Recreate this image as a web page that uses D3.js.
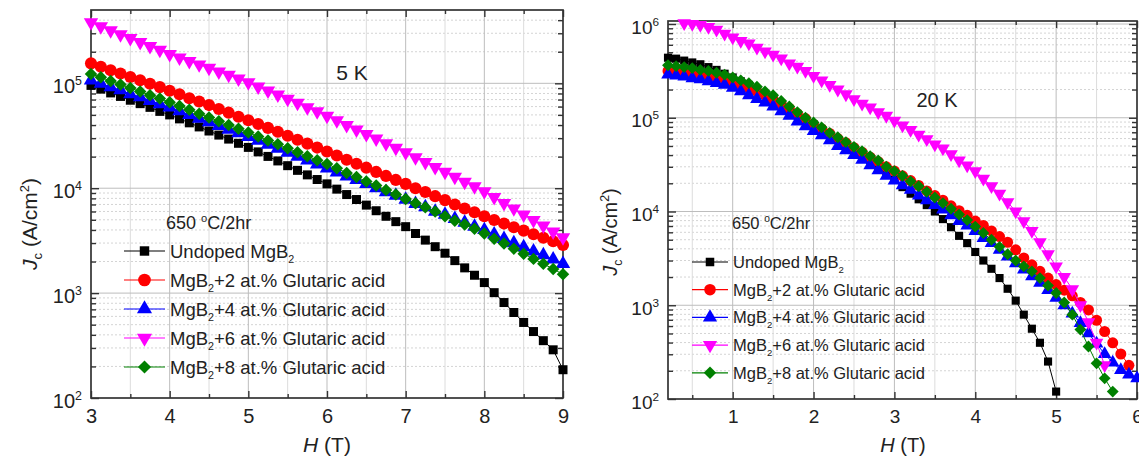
<!DOCTYPE html>
<html>
<head>
<meta charset="utf-8">
<script src="https://cdn.jsdelivr.net/npm/d3@7"></script>
<style>
  body { margin: 0; background: #fff; }
  svg text { font-family: "Liberation Sans", Arial, sans-serif; fill: #222; }
</style>
</head>
<body>
<div id="chart"></div>
<script>
// ---- data ----
// magnetic field H (T)
const field5K = [3, 3.125, 3.25, 3.375, 3.5, 3.625, 3.75, 3.875, 4, 4.125, 4.25, 4.375, 4.5, 4.625, 4.75, 4.875,
  5, 5.125, 5.25, 5.375, 5.5, 5.625, 5.75, 5.875, 6, 6.125, 6.25, 6.375, 6.5, 6.625, 6.75, 6.875,
  7, 7.125, 7.25, 7.375, 7.5, 7.625, 7.75, 7.875, 8, 8.125, 8.25, 8.375, 8.5, 8.625, 8.75, 8.875, 9];
const field20K = [0.2, 0.3, 0.4, 0.5, 0.6, 0.7, 0.8, 0.9, 1, 1.1, 1.2, 1.3, 1.4, 1.5, 1.6, 1.7, 1.8, 1.9,
  2, 2.1, 2.2, 2.3, 2.4, 2.5, 2.6, 2.7, 2.8, 2.9, 3, 3.1, 3.2, 3.3, 3.4, 3.5, 3.6, 3.7, 3.8, 3.9,
  4, 4.1, 4.2, 4.3, 4.4, 4.5, 4.6, 4.7, 4.8, 4.9, 5, 5.1, 5.2, 5.3, 5.4, 5.5, 5.6, 5.7, 5.8, 5.9, 6];

// Jc (A/cm2) at 5 K
const undoped5K = [95500, 88000, 81000, 75000, 69000, 64000, 59000, 54000, 50000, 45800, 42000, 38400, 35100, 32100, 29400, 26800,
  24500, 22200, 20100, 18200, 16400, 14800, 13400, 12100, 11000, 9800, 8700, 7800, 6900, 6100, 5400, 4800,
  4300, 3700, 3200, 2770, 2400, 2040, 1740, 1480, 1260, 1010, 813, 653, 525, 430, 352, 288, 186];
const doped2_5K = [155000, 144000, 133000, 124000, 115000, 107000, 99000, 92000, 85000, 78500, 72000, 67000, 62000, 57000, 52500, 48000,
  44500, 41000, 37600, 34500, 31600, 29000, 26600, 24400, 22400, 20500, 18700, 17100, 15700, 14300, 13100, 12000,
  11000, 10000, 9200, 8400, 7700, 7000, 6400, 5900, 5400, 4970, 4600, 4250, 3940, 3640, 3370, 3120, 2880];
const doped4_5K = [107000, 99500, 92000, 86000, 79000, 74000, 68000, 63500, 59000, 54300, 50000, 46200, 42700, 39400, 36300, 33500,
  30900, 28400, 26000, 23900, 21900, 20000, 18400, 16900, 15500, 14200, 13000, 12000, 11000, 10000, 9200, 8500,
  7800, 7100, 6600, 6000, 5600, 5100, 4700, 4300, 4000, 3630, 3300, 3000, 2750, 2500, 2300, 2100, 1900];
const doped6_5K = [380000, 349000, 320000, 293000, 269000, 247000, 226000, 208000, 190000, 176000, 163000, 151000, 140000, 129000, 120000, 111000,
  102000, 93000, 85000, 78000, 71000, 65000, 59000, 54000, 49000, 44300, 40000, 36200, 32700, 29600, 26800, 24200,
  21900, 19700, 17700, 15900, 14300, 12800, 11500, 10400, 9300, 8200, 7200, 6400, 5600, 4950, 4400, 3850, 3400];
const doped8_5K = [123000, 114000, 105000, 97500, 90000, 83500, 77000, 71500, 66000, 60800, 56000, 51400, 47300, 43500, 40000, 36800,
  33900, 31100, 28500, 26200, 24000, 22000, 20200, 18500, 17000, 15500, 14000, 12800, 11600, 10600, 9600, 8700,
  7900, 7200, 6600, 6000, 5400, 4900, 4500, 4100, 3700, 3300, 2970, 2650, 2370, 2120, 1900, 1700, 1510];

// Jc (A/cm2) at 20 K (null = no point at that field)
const undoped20K = [437000, 427000, 407000, 389000, 372000, 347000, 324000, 295000, 269000,
  245000, 224000, 200000, 178000, 158000, 141000, 123000, 110000,
  95000, 85000, 76000, 66000, 59000, 51000, 46000, 40000,
  35000, 29500, 25700, 21900, 18200, 15500, 13500, 11700,
  10000, 8300, 6800, 5500, 4600, 3700, 3000, 2450,
  1950, 1500, 1120, 794, 562, 398, 251, 120];
const doped2_20K = [316000, 309000, 302000, 295000, 288000, 282000, 269000, 257000, 240000,
  224000, 209000, 191000, 174000, 158000, 141000, 126000, 110000,
  98000, 85000, 76000, 68000, 60000, 54000, 48000, 43000,
  38000, 34000, 30000, 27000, 24000, 21400, 19000, 16600,
  14800, 13200, 11500, 10200, 9100, 7900, 7100, 6200,
  5400, 4700, 3900, 3200, 2700, 2300, 1950, 1660,
  1450, 1260, 1070, 891, 692, 525, 398, 302, 229];
const doped4_20K = [288000, 282000, 275000, 263000, 257000, 245000, 234000, 224000, 209000,
  191000, 174000, 158000, 145000, 132000, 117000, 105000, 91000,
  81000, 72000, 65000, 57500, 50000, 45000, 40000, 35500,
  31000, 27500, 24000, 21400, 19000, 17000, 14800, 13200,
  11700, 10500, 9100, 7900, 7100, 6200, 5200, 4600,
  3900, 3300, 2800, 2400, 2040, 1740, 1450, 1200,
  1000, 813, 646, 501, 389, 302, 245, 204, 182, 166];
const doped6_20K = [null, null, 1020000, 1000000, 980000, 930000, 870000, 790000, 720000,
  660000, 620000, 560000, 510000, 470000, 430000, 380000, 350000,
  316000, 280000, 250000, 224000, 200000, 178000, 158000, 141000,
  129000, 115000, 105000, 93000, 83000, 74000, 66000, 59000,
  52000, 47000, 41000, 35000, 31000, 27000, 22400, 18600,
  15500, 12600, 10000, 7900, 6200, 4700, 3500, 2600,
  2000, 1480, 1000, 661, 398, 229];
const doped8_20K = [363000, 355000, 347000, 339000, 324000, 316000, 302000, 288000, 269000,
  251000, 234000, 214000, 191000, 174000, 151000, 132000, 115000,
  100000, 89000, 79000, 69000, 62000, 55000, 49000, 44000,
  39000, 35000, 30000, 27000, 24000, 21000, 18600, 16200,
  14100, 12300, 10700, 9300, 8100, 6900, 5900, 5000,
  4200, 3500, 3000, 2600, 2300, 1950, 1620, 1350,
  1070, 794, 550, 363, 240, 166, 120];

const seriesLabels = ["Undoped MgB_2", "MgB_2+2 at.% Glutaric acid", "MgB_2+4 at.% Glutaric acid",
  "MgB_2+6 at.% Glutaric acid", "MgB_2+8 at.% Glutaric acid"];
const seriesColors = ["#000000", "#ff0000", "#0000ff", "#ff00ff", "#008000"];
const seriesMarkers = ["square", "circle", "up", "down", "diamond"];

const ticks5K = [3, 4, 5, 6, 7, 8, 9];
const ticks20K = [1, 2, 3, 4, 5, 6];
const decades5K = [1e2, 1e3, 1e4, 1e5];
const decades20K = [1e2, 1e3, 1e4, 1e5, 1e6];

// ---- drawing ----
const svg = d3.select("#chart").append("svg")
  .attr("width", 1139)
  .attr("height", 463);

function markerPath(kind, size) {
  const type = kind === "circle" ? d3.symbolCircle
    : (kind === "up" || kind === "down") ? d3.symbolTriangle
    : d3.symbolSquare;
  return d3.symbol().type(type).size(size)();
}
function markerRotate(kind) {
  return kind === "down" ? 180 : kind === "diamond" ? 45 : 0;
}

// text with "_2" subscripts
function subText(sel, str, subSize, shift) {
  const parts = str.split("_2");
  sel.append("tspan").text(parts[0]);
  if (parts.length > 1) {
    sel.append("tspan").attr("font-size", subSize).attr("dy", shift).text("2");
    sel.append("tspan").attr("dy", -shift).text(parts[1]);
  }
}

function drawPanel(p) {
  const x = d3.scaleLinear().domain(p.xDomain).range([p.left, p.right]);
  const y = d3.scaleLog().domain(p.yDomain).range([p.bottom, p.top]);
  const g = svg.append("g");

  const xMinor = p.xMajor.map(d => d - 0.5).filter(d => d > p.xDomain[0]);
  const yMinor = [];
  p.decades.forEach(d => d3.range(2, 10).forEach(k => { if (k * d < p.yDomain[1]) yMinor.push(k * d); }));

  // grid
  g.append("g").selectAll("line").data(yMinor).join("line")
    .attr("x1", p.left).attr("x2", p.right)
    .attr("y1", d => y(d)).attr("y2", d => y(d))
    .attr("stroke", "#d4d4d4").attr("stroke-dasharray", "2,2");
  g.append("g").selectAll("line").data(xMinor).join("line")
    .attr("x1", d => x(d)).attr("x2", d => x(d))
    .attr("y1", p.top).attr("y2", p.bottom)
    .attr("stroke", "#dcdcdc");
  g.append("g").selectAll("line").data(p.decades.filter(d => d > p.yDomain[0])).join("line")
    .attr("x1", p.left).attr("x2", p.right)
    .attr("y1", d => y(d)).attr("y2", d => y(d))
    .attr("stroke", "#bdbdbd");
  g.append("g").selectAll("line").data(p.xMajor.filter(d => d > p.xDomain[0] && d < p.xDomain[1])).join("line")
    .attr("x1", d => x(d)).attr("x2", d => x(d))
    .attr("y1", p.top).attr("y2", p.bottom)
    .attr("stroke", "#bdbdbd");

  // axes, ticks pointing inward
  const axisStyle = a => a.attr("font-size", p.tickFont).attr("font-family", null).attr("color", "#333")
    .call(s => s.select(".domain").remove())
    .call(s => s.selectAll(".tick line").attr("stroke-width", 1.4));

  g.append("g").attr("transform", `translate(0,${p.bottom})`)
    .call(d3.axisBottom(x).tickValues(p.xMajor).tickFormat(d3.format("d")).tickSize(-7).tickPadding(11))
    .call(axisStyle);
  g.append("g").attr("transform", `translate(0,${p.bottom})`)
    .call(d3.axisBottom(x).tickValues(xMinor).tickSize(-4).tickFormat("")).call(axisStyle);
  g.append("g").attr("transform", `translate(0,${p.top})`)
    .call(d3.axisTop(x).tickValues(p.xMajor).tickSize(-7).tickFormat("")).call(axisStyle);
  g.append("g").attr("transform", `translate(0,${p.top})`)
    .call(d3.axisTop(x).tickValues(xMinor).tickSize(-4).tickFormat("")).call(axisStyle);

  const yAxis = g.append("g").attr("transform", `translate(${p.left},0)`)
    .call(d3.axisLeft(y).tickValues(p.decades).tickSize(-8).tickPadding(9).tickFormat("")).call(axisStyle);
  yAxis.selectAll(".tick text").attr("dy", "0.48em").each(function(d) {
    const t = d3.select(this);
    t.append("tspan").text("10");
    t.append("tspan").attr("font-size", p.tickFont * 0.62).attr("dy", -8).text(Math.round(Math.log10(d)));
  });
  g.append("g").attr("transform", `translate(${p.left},0)`)
    .call(d3.axisLeft(y).tickValues(yMinor).tickSize(-5).tickFormat("")).call(axisStyle);
  g.append("g").attr("transform", `translate(${p.right},0)`)
    .call(d3.axisRight(y).tickValues(p.decades).tickSize(-8).tickFormat("")).call(axisStyle);
  g.append("g").attr("transform", `translate(${p.right},0)`)
    .call(d3.axisRight(y).tickValues(yMinor).tickSize(-5).tickFormat("")).call(axisStyle);

  g.append("rect")
    .attr("x", p.left).attr("y", p.top)
    .attr("width", p.right - p.left).attr("height", p.bottom - p.top)
    .attr("fill", "none").attr("stroke", "#333").attr("stroke-width", 1.7);

  // series
  p.series.forEach((vals, i) => {
    const pts = vals.map((v, j) => [p.field[j], v]).filter(d => d[1] != null);
    const sg = g.append("g");
    sg.append("path")
      .datum(pts)
      .attr("d", d3.line().x(d => x(d[0])).y(d => y(d[1])))
      .attr("fill", "none")
      .attr("stroke", seriesColors[i])
      .attr("stroke-width", 1);
    sg.selectAll("path.m").data(pts).join("path")
      .attr("class", "m")
      .attr("d", markerPath(seriesMarkers[i], p.sizes[i]))
      .attr("transform", d => `translate(${x(d[0])},${y(d[1])}) rotate(${markerRotate(seriesMarkers[i])})`)
      .attr("fill", seriesColors[i]);
  });

  // legend
  const lg = g.append("g");
  lg.append("text")
    .attr("x", p.note.x).attr("y", p.note.y)
    .attr("font-size", p.note.font)
    .call(t => {
      t.append("tspan").text("650 ");
      t.append("tspan").attr("font-size", p.note.font * 0.62).attr("dy", -7).text("o");
      t.append("tspan").attr("dy", 7).text("C/2hr");
    });
  seriesLabels.forEach((label, i) => {
    const yy = p.legend.y0 + i * p.legend.dy;
    lg.append("line")
      .attr("x1", p.legend.x1).attr("x2", p.legend.x2)
      .attr("y1", yy).attr("y2", yy)
      .attr("stroke", seriesColors[i]).attr("stroke-width", 1.2);
    lg.append("path")
      .attr("d", markerPath(seriesMarkers[i], p.sizes[i] * 1.1))
      .attr("transform", `translate(${(p.legend.x1 + p.legend.x2) / 2},${yy}) rotate(${markerRotate(seriesMarkers[i])})`)
      .attr("fill", seriesColors[i]);
    lg.append("text")
      .attr("x", p.legend.tx).attr("y", yy + p.legend.font * 0.36)
      .attr("font-size", p.legend.font)
      .call(t => subText(t, label, p.legend.font * 0.58, 5));
  });

  // temperature tag
  g.append("text")
    .attr("x", p.temp.x).attr("y", p.temp.y)
    .attr("text-anchor", "middle")
    .attr("font-size", p.temp.font)
    .text(p.temp.text);

  // axis titles
  g.append("text")
    .attr("transform", `translate(${p.yTitle.x},${p.yTitle.y}) rotate(-90)`)
    .attr("text-anchor", "middle")
    .attr("font-size", p.titleFont)
    .call(t => {
      t.append("tspan").attr("font-style", "italic").text("J");
      t.append("tspan").attr("font-size", p.titleFont * 0.62).attr("dy", 5).text("c");
      t.append("tspan").attr("dy", -5).text(" (A/cm");
      t.append("tspan").attr("font-size", p.titleFont * 0.62).attr("dy", -8).text("2");
      t.append("tspan").attr("dy", 8).text(")");
    });
  g.append("text")
    .attr("x", p.xTitle.x).attr("y", p.xTitle.y)
    .attr("text-anchor", "middle")
    .attr("font-size", p.titleFont)
    .call(t => {
      t.append("tspan").attr("font-style", "italic").text("H");
      t.append("tspan").text(" (T)");
    });
}

drawPanel({
  xDomain: [3, 9], yDomain: [100, 5e5],
  left: 91, right: 563, top: 10, bottom: 398,
  xMajor: ticks5K, decades: decades5K,
  field: field5K,
  series: [undoped5K, doped2_5K, doped4_5K, doped6_5K, doped8_5K],
  sizes: [81, 115, 90, 90, 78],
  tickFont: 20, titleFont: 21,
  legend: {x1: 124, x2: 165, tx: 170, y0: 251, dy: 29, font: 18.5},
  note: {x: 166, y: 229, font: 18},
  temp: {text: "5 K", x: 352, y: 80, font: 21},
  yTitle: {x: 37, y: 224},
  xTitle: {x: 327, y: 452}
});

drawPanel({
  xDomain: [0.2, 6], yDomain: [100, 1.077e6],
  left: 668, right: 1137, top: 21, bottom: 399,
  xMajor: ticks20K, decades: decades20K,
  field: field20K,
  series: [undoped20K, doped2_20K, doped4_20K, doped6_20K, doped8_20K],
  sizes: [66, 95, 80, 80, 70],
  tickFont: 19, titleFont: 20,
  legend: {x1: 692, x2: 728, tx: 733, y0: 262, dy: 27.7, font: 16.5},
  note: {x: 732, y: 229, font: 16.5},
  temp: {text: "20 K", x: 937, y: 107, font: 20},
  yTitle: {x: 617, y: 232},
  xTitle: {x: 903, y: 452}
});
</script>
</body>
</html>
